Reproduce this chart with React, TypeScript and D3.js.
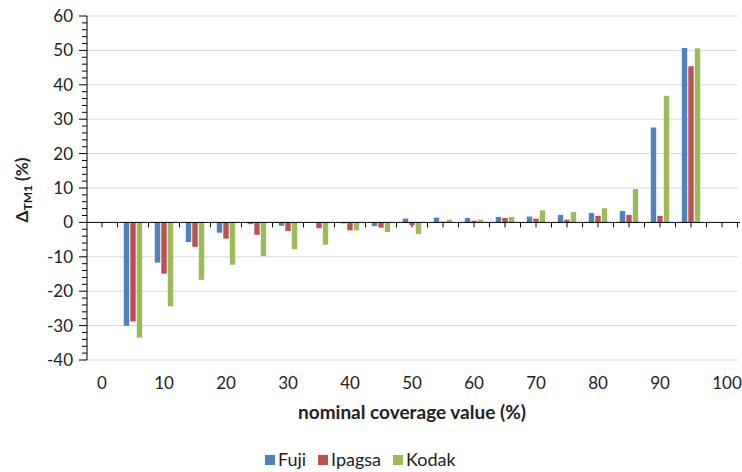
import React from 'react';
import * as d3 from 'd3';

// nominal coverage (%) for each bar group
const coverage = [5, 10, 15, 20, 25, 30, 35, 40, 45, 50, 55, 60, 65, 70, 75, 80, 85, 90, 95];

const fuji = [-30.1, -11.7, -5.7, -3.0, -0.5, -1.0, 0, -0.3, -1.1, 1.1, 1.4, 1.3, 1.6, 1.7, 2.2, 2.7, 3.3, 27.6, 50.7];
const ipagsa = [-28.8, -14.9, -7.1, -4.7, -3.6, -2.5, -1.7, -2.3, -1.5, -0.8, 0.2, 0.5, 1.3, 1.1, 0.8, 1.9, 2.2, 1.9, 45.4];
const kodak = [-33.5, -24.4, -16.7, -12.3, -9.8, -7.8, -6.5, -2.3, -2.8, -3.4, 0.8, 0.8, 1.6, 3.5, 3.0, 4.1, 9.7, 36.8, 50.6];

const seriesNames = ['Fuji', 'Ipagsa', 'Kodak'];
const seriesColors = ['#4f81bd', '#c0504d', '#9bbb59'];
const seriesValues = [fuji, ipagsa, kodak];

const xTickLabels = [0, 10, 20, 30, 40, 50, 60, 70, 80, 90, 100];
const yTickLabels = [60, 50, 40, 30, 20, 10, 0, -10, -20, -30, -40];

const font = 'Lato, "Open Sans", sans-serif';

export default function App() {
  const width = 742;
  const height = 472;
  const axisX = 87;

  const x = d3.scaleLinear().domain([0, 100]).range([102, 722]);
  const y = d3.scaleLinear().domain([-40, 60]).range([360, 16]);

  const barW = 5.4;
  const barStep = 6.5;

  const minorY = d3.range(-40, 60.1, 2);
  const minorX = d3.range(0, 102.6, 2.5);

  return (
    <svg width={width} height={height} style={{ position: 'absolute', left: 0, top: 0, background: '#fff' }}>
      {/* gridlines */}
      {yTickLabels.filter(v => v !== 0).map(v => (
        <line key={'g' + v} x1={axisX} x2={737} y1={y(v)} y2={y(v)} stroke="#d9d9d9" strokeWidth={1} />
      ))}

      {/* x ticks at zero line (under the bars) */}
      {minorX.map(v => (
        <line key={'xm' + v} x1={x(v)} x2={x(v)} y1={y(0)} y2={y(0) + 5} stroke="#000" strokeWidth={1} />
      ))}

      {/* bars */}
      {seriesValues.map((vals, si) => (
        <g key={seriesNames[si]} fill={seriesColors[si]}>
          {vals.map((v, i) => {
            const cx = x(coverage[i]) + (si - 1) * barStep;
            const y0 = y(0);
            const y1 = y(v);
            return (
              <rect key={i} x={cx - barW / 2} y={Math.min(y0, y1)} width={barW} height={Math.abs(y1 - y0)} />
            );
          })}
        </g>
      ))}

      {/* y axis */}
      <line x1={axisX} x2={axisX} y1={y(60)} y2={y(-40)} stroke="#000" strokeWidth={1} />
      {minorY.map(v => (
        <line key={'ym' + v} x1={v % 10 === 0 ? axisX - 8 : axisX - 5} x2={axisX} y1={y(v)} y2={y(v)} stroke="#000" strokeWidth={1} />
      ))}
      {yTickLabels.map(v => (
        <text key={'yl' + v} x={73} y={y(v)} dy="0.35em" textAnchor="end" fontFamily={font} fontSize={17} fill="#222">
          {v}
        </text>
      ))}

      {/* x axis line at zero */}
      <line x1={axisX} x2={740} y1={y(0)} y2={y(0)} stroke="#000" strokeWidth={1} />
      {xTickLabels.map(v => (
        <text key={'xl' + v} x={x(v) + (v === 100 ? 5 : 0)} y={389} textAnchor="middle" fontFamily={font} fontSize={17} fill="#222">
          {v}
        </text>
      ))}

      {/* axis titles */}
      <text x={412} y={419} textAnchor="middle" fontFamily={font} fontSize={19} fontWeight="bold" fill="#222">
        nominal coverage value (%)
      </text>
      <text transform="translate(28,190) rotate(-90)" textAnchor="middle" fontFamily={font} fontSize={17} fontWeight="bold" fill="#222">
        Δ<tspan fontSize={12} dy={4}>TM1</tspan>
        <tspan dy={-4}> (%)</tspan>
      </text>

      {/* legend */}
      {seriesNames.map((name, i) => {
        const lx = [265, 318, 393][i];
        return (
          <g key={'lg' + name}>
            <rect x={lx} y={455} width={10} height={10} fill={seriesColors[i]} />
            <text x={lx + 13} y={466} fontFamily={font} fontSize={18} fill="#222">
              {name}
            </text>
          </g>
        );
      })}
    </svg>
  );
}
